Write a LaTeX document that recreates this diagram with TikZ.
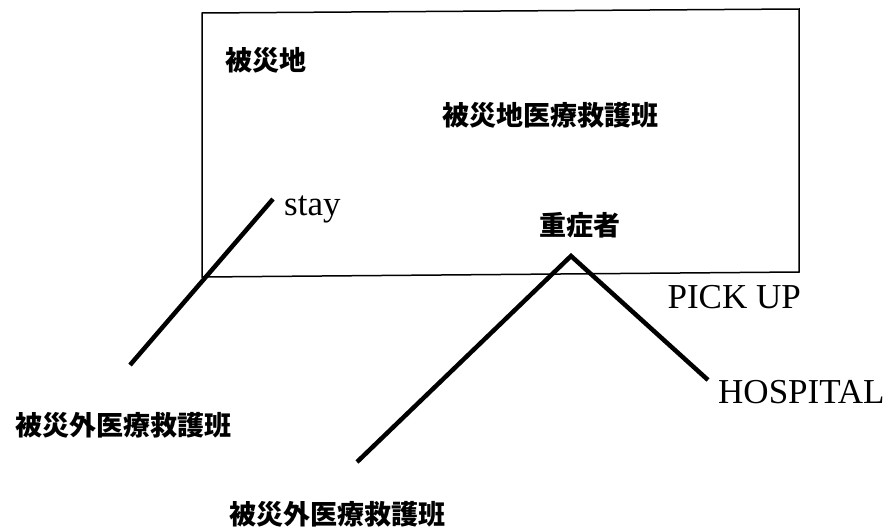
\documentclass[tikz,border=0pt]{standalone}
\usepackage{fontspec}
\setmainfont{Liberation Serif}
\newfontfamily\jp{Noto Sans CJK JP}
\begin{document}
\begin{tikzpicture}[x=1pt,y=-1pt,
  jptext/.style={font=\jp\bfseries\fontsize{27}{30}\selectfont, inner sep=0pt},
  lattext/.style={font=\fontsize{35}{40}\selectfont, inner sep=0pt},
  conn/.style={line width=4.5pt},
  frame/.style={line width=1.5pt}]
\useasboundingbox (0,0) rectangle (891,530);
\draw[frame] (202,13) -- (799,9) -- (799,272) -- (202,277) -- cycle;
\node[jptext] (area) at (266,60) {被災地};
\node[jptext] (team) at (550,115) {被災地医療救護班};
\node[lattext, anchor=base west] (stay) at (284,215) {stay};
\node[jptext] (patient) at (580,225) {重症者};
\node[lattext, anchor=base east] (pickup) at (801,308) {PICK UP};
\node[lattext, anchor=base west] (hosp) at (718,403) {HOSPITAL};
\node[jptext] (outA) at (124,425) {被災外医療救護班};
\node[jptext] (outB) at (337,514) {被災外医療救護班};
\coordinate (stayStart) at (130,365);
\coordinate (stayEnd) at (273,199);
\coordinate (peak) at (571,256);
\coordinate (legL) at (357,462);
\coordinate (legR) at (708,380);
\draw[conn] (stayStart) -- (stayEnd);
\draw[conn] (legL) -- (peak) -- (legR);
\end{tikzpicture}
\end{document}
